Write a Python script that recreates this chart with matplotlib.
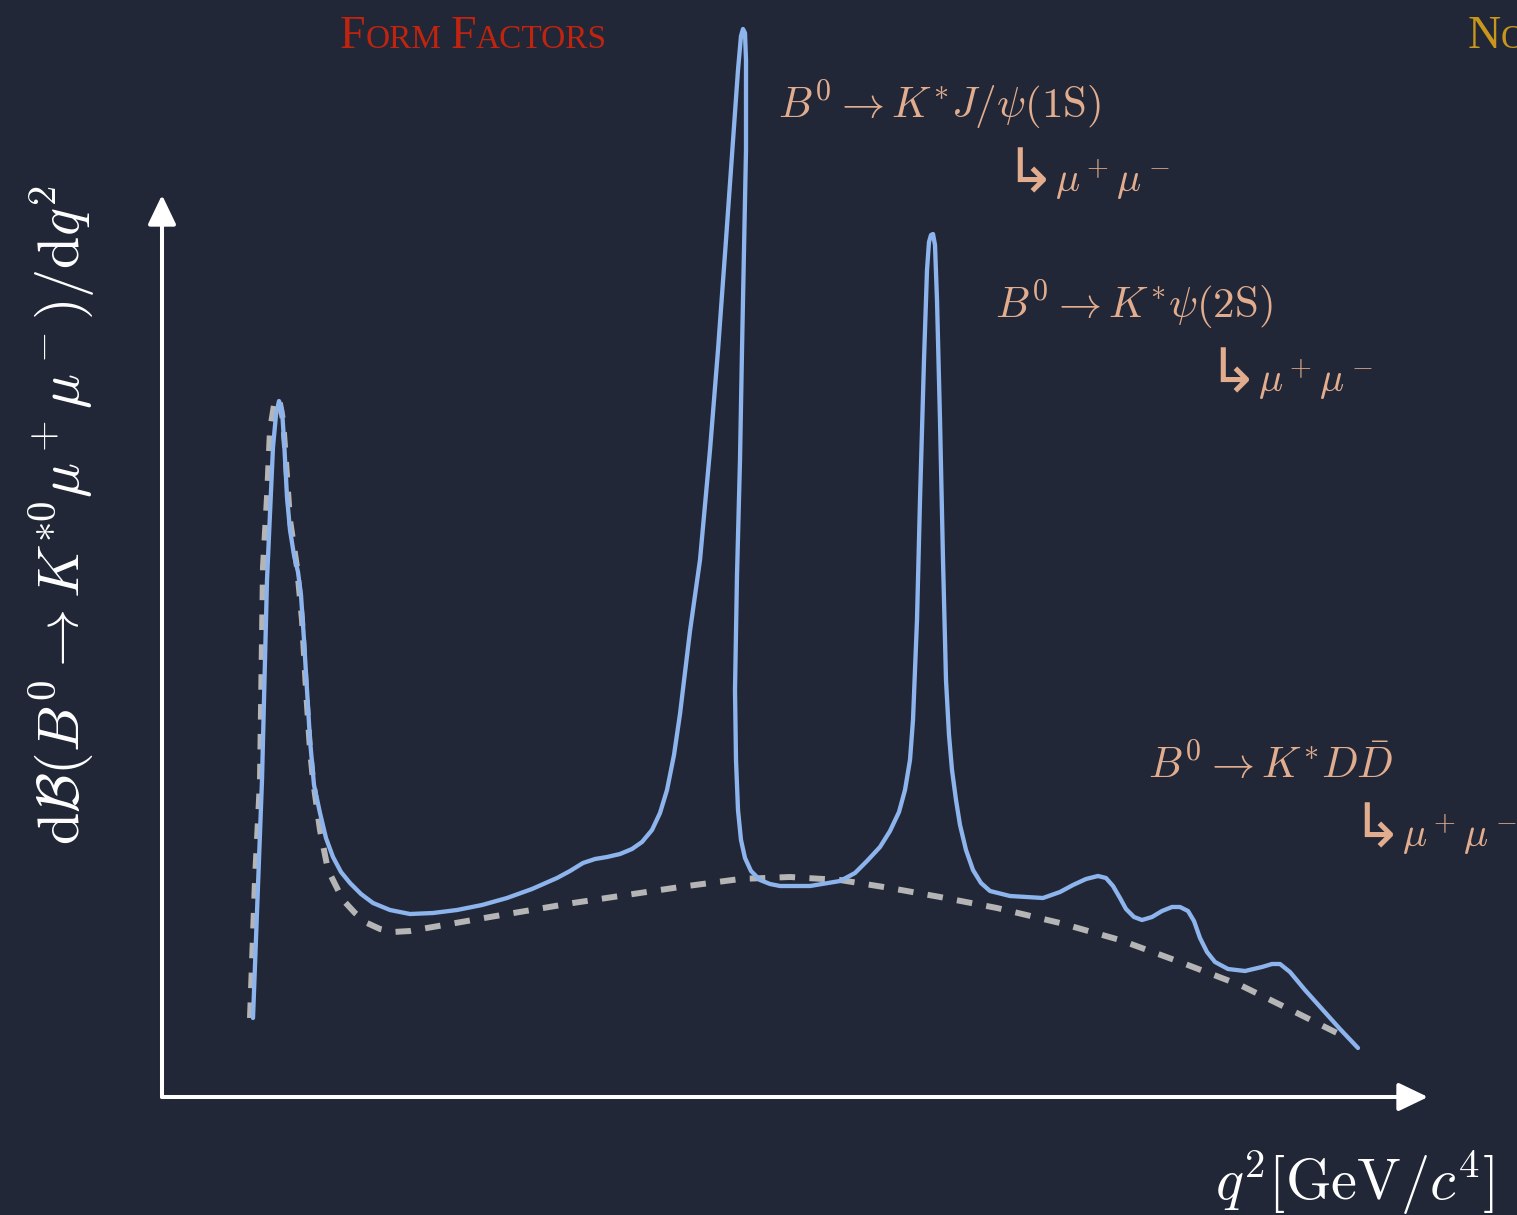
import matplotlib
matplotlib.use("Agg")
import matplotlib.pyplot as plt

plt.rcParams["mathtext.fontset"] = "cm"

W, H = 1517, 1215
BG = "#212737"
SOLID_COLOR = "#8db4ec"
DASHED_COLOR = "#b5b5b5"
LABEL_COLOR = "#e2ad8e"
RED = "#c0240f"
GOLD = "#c8961a"

# full spectrum incl. charmonium resonances (arbitrary units)
q2_full = [1.82, 1.90, 2.00, 2.10, 2.16, 2.22, 2.28, 2.34, 2.40, 2.44, 2.50, 2.56,
           2.64, 2.72, 2.78, 2.84, 2.90, 2.96, 3.04, 3.16, 3.28, 3.42, 3.58, 3.76,
           3.98, 4.22, 4.56, 4.96, 5.42, 5.90, 6.40, 6.90, 7.40, 7.90, 8.16, 8.42,
           8.66, 8.90, 9.16, 9.40, 9.60, 9.80, 9.96, 10.10, 10.24, 10.36, 10.56,
           10.76, 10.96, 11.12, 11.28, 11.42, 11.52, 11.58, 11.62, 11.66, 11.68,
           11.68, 11.64, 11.60, 11.56, 11.50, 11.46, 11.48, 11.52, 11.58, 11.66,
           11.78, 11.96, 12.16, 12.36, 12.96, 13.56, 13.86, 14.10, 14.36, 14.56,
           14.74, 14.86, 14.96, 15.02, 15.10, 15.16, 15.24, 15.30, 15.34, 15.38,
           15.42, 15.46, 15.50, 15.56, 15.62, 15.68, 15.74, 15.80, 15.88, 15.96,
           16.08, 16.22, 16.38, 16.56, 16.96, 17.62, 17.96, 18.22, 18.48, 18.72,
           18.88, 19.02, 19.16, 19.28, 19.44, 19.60, 19.80, 20.00, 20.20, 20.36,
           20.52, 20.64, 20.76, 20.90, 21.06, 21.32, 21.66, 22.00, 22.20, 22.36,
           22.56, 22.86, 23.22, 23.56, 23.92]
rate_full = [0.79, 1.84, 3.17, 5.17, 5.84, 6.50, 6.82, 6.96, 6.87, 6.57, 6.00, 5.67,
             5.42, 5.25, 5.02, 4.57, 4.07, 3.57, 3.12, 2.84, 2.59, 2.40, 2.25, 2.14,
             2.03, 1.94, 1.87, 1.83, 1.84, 1.87, 1.92, 1.99, 2.08, 2.19, 2.26, 2.34,
             2.38, 2.40, 2.43, 2.48, 2.55, 2.67, 2.84, 3.07, 3.42, 3.83, 4.66,
             5.37, 6.47, 7.47, 8.57, 9.57, 10.27, 10.61, 10.68, 10.64, 10.37,
             9.47, 8.47, 7.47, 6.37, 5.22, 4.07, 3.37, 2.87, 2.57, 2.39,
             2.26, 2.17, 2.13, 2.11, 2.11, 2.16, 2.24, 2.36, 2.50, 2.66,
             2.85, 3.07, 3.37, 3.77, 4.77, 5.97, 7.37, 8.27, 8.55, 8.62,
             8.63, 8.52, 7.97, 6.77, 5.37, 4.17, 3.62, 3.27, 2.97, 2.72,
             2.47, 2.27, 2.14, 2.06, 2.01, 1.99, 2.05, 2.12, 2.18, 2.21,
             2.19, 2.11, 1.99, 1.88, 1.80, 1.77, 1.80, 1.86, 1.90, 1.90,
             1.86, 1.76, 1.59, 1.45, 1.35, 1.28, 1.26, 1.30, 1.33, 1.33,
             1.25, 1.07, 0.87, 0.68, 0.49]

# short-distance (form factor) contribution only
q2_short = [1.76, 1.86, 1.96, 2.02, 2.10, 2.16, 2.24, 2.34, 2.42, 2.46, 2.56, 2.70,
            2.80, 2.88, 2.96, 3.02, 3.16, 3.32, 3.62, 3.86, 4.10, 4.36, 4.62, 4.96,
            5.30, 6.56, 8.22, 10.36, 11.56, 12.56, 13.56, 14.56, 15.56, 16.70,
            17.96, 19.16, 20.36, 21.56, 22.70, 23.50]
rate_short = [0.79, 2.17, 3.17, 5.30, 6.00, 6.67, 6.92, 6.99, 6.77, 6.50, 5.77, 5.30,
              4.77, 4.07, 3.47, 3.17, 2.67, 2.27, 1.97, 1.84, 1.74, 1.68, 1.65, 1.66,
              1.69, 1.80, 1.94, 2.10, 2.18, 2.20, 2.17, 2.09, 2.00, 1.89,
              1.74, 1.57, 1.35, 1.12, 0.84, 0.64]

X_AXIS_END = 25.32
Y_AXIS_END = 9.02

fig = plt.figure(figsize=(W / 100, H / 100), dpi=100, facecolor=BG)
ax = fig.add_axes([0, 0, 1, 1])
ax.set_facecolor(BG)
ax.set_xlim(-3.24, 27.10)
ax.set_ylim(-1.18, 10.97)
ax.axis("off")

arrow = dict(arrowstyle="-|>,head_length=1.0,head_width=0.48", mutation_scale=18,
             lw=2.9, color="white", shrinkA=0, shrinkB=0)
ax.annotate("", xy=(X_AXIS_END, 0), xytext=(0, 0), arrowprops=arrow)
ax.annotate("", xy=(0, Y_AXIS_END), xytext=(0, 0), arrowprops=arrow)

ax.plot(q2_short, rate_short, color=DASHED_COLOR, lw=4.3, dashes=(2.6, 2.4),
        dash_capstyle="butt", solid_joinstyle="round", zorder=2)
ax.plot(q2_full, rate_full, color=SOLID_COLOR, lw=3.1, solid_joinstyle="round",
        solid_capstyle="round", zorder=3)

renderer = fig.canvas.get_renderer()


def chain_text(x, y, pieces, gap=0.0):
    """Put text pieces side by side on one baseline; x, y in pixels from top-left."""
    for s, kw in pieces:
        if s == " ":
            x += gap
            continue
        t = fig.text(x / W, 1 - y / H, s, ha="left", va="baseline", **kw)
        x = t.get_window_extent(renderer).x1


serif = dict(family="Liberation Serif")
chain_text(340, 48, [("F", dict(fontsize=33, color=RED, **serif)),
                     ("ORM", dict(fontsize=24, color=RED, **serif)),
                     (" ", {}),
                     ("F", dict(fontsize=33, color=RED, **serif)),
                     ("ACTORS", dict(fontsize=24, color=RED, **serif))], gap=9)
chain_text(1468, 48, [("N", dict(fontsize=33, color=GOLD, **serif)),
                      ("ON-LOCAL", dict(fontsize=24, color=GOLD, **serif))])

lab = dict(fontsize=31, color=LABEL_COLOR)
sub = dict(fontsize=29, color=LABEL_COLOR)
hook = dict(fontsize=44, color=LABEL_COLOR, family=["DejaVu Sans", "STIXGeneral"])
mumu = r"$\mu^+\mu^-$"

chain_text(778, 118, [(r"$B^0\rightarrow K^{*}J/\psi(1\mathrm{S})$", lab)])
chain_text(1004, 192, [("\u21b3", hook), (mumu, sub)])
chain_text(995, 318, [(r"$B^0\rightarrow K^{*}\psi(2\mathrm{S})$", lab)])
chain_text(1207, 392, [("\u21b3", hook), (mumu, sub)])
chain_text(1148, 778, [(r"$B^0\rightarrow K^{*}D\bar{D}$", lab)])
chain_text(1351, 847, [("\u21b3", hook), (mumu, sub)])

fig.text(62 / W, 1 - 515 / H,
         r"$\mathrm{d}\mathcal{B}(B^0\rightarrow K^{*0}\mu^+\mu^-)/\mathrm{d}q^2$",
         rotation=90, ha="center", va="center", fontsize=42, color="white")
chain_text(1215, 1200, [(r"$q^2[\mathrm{GeV}/c^4]$", dict(fontsize=42, color="white"))])

fig.savefig("out.png", dpi=100, facecolor=BG)
